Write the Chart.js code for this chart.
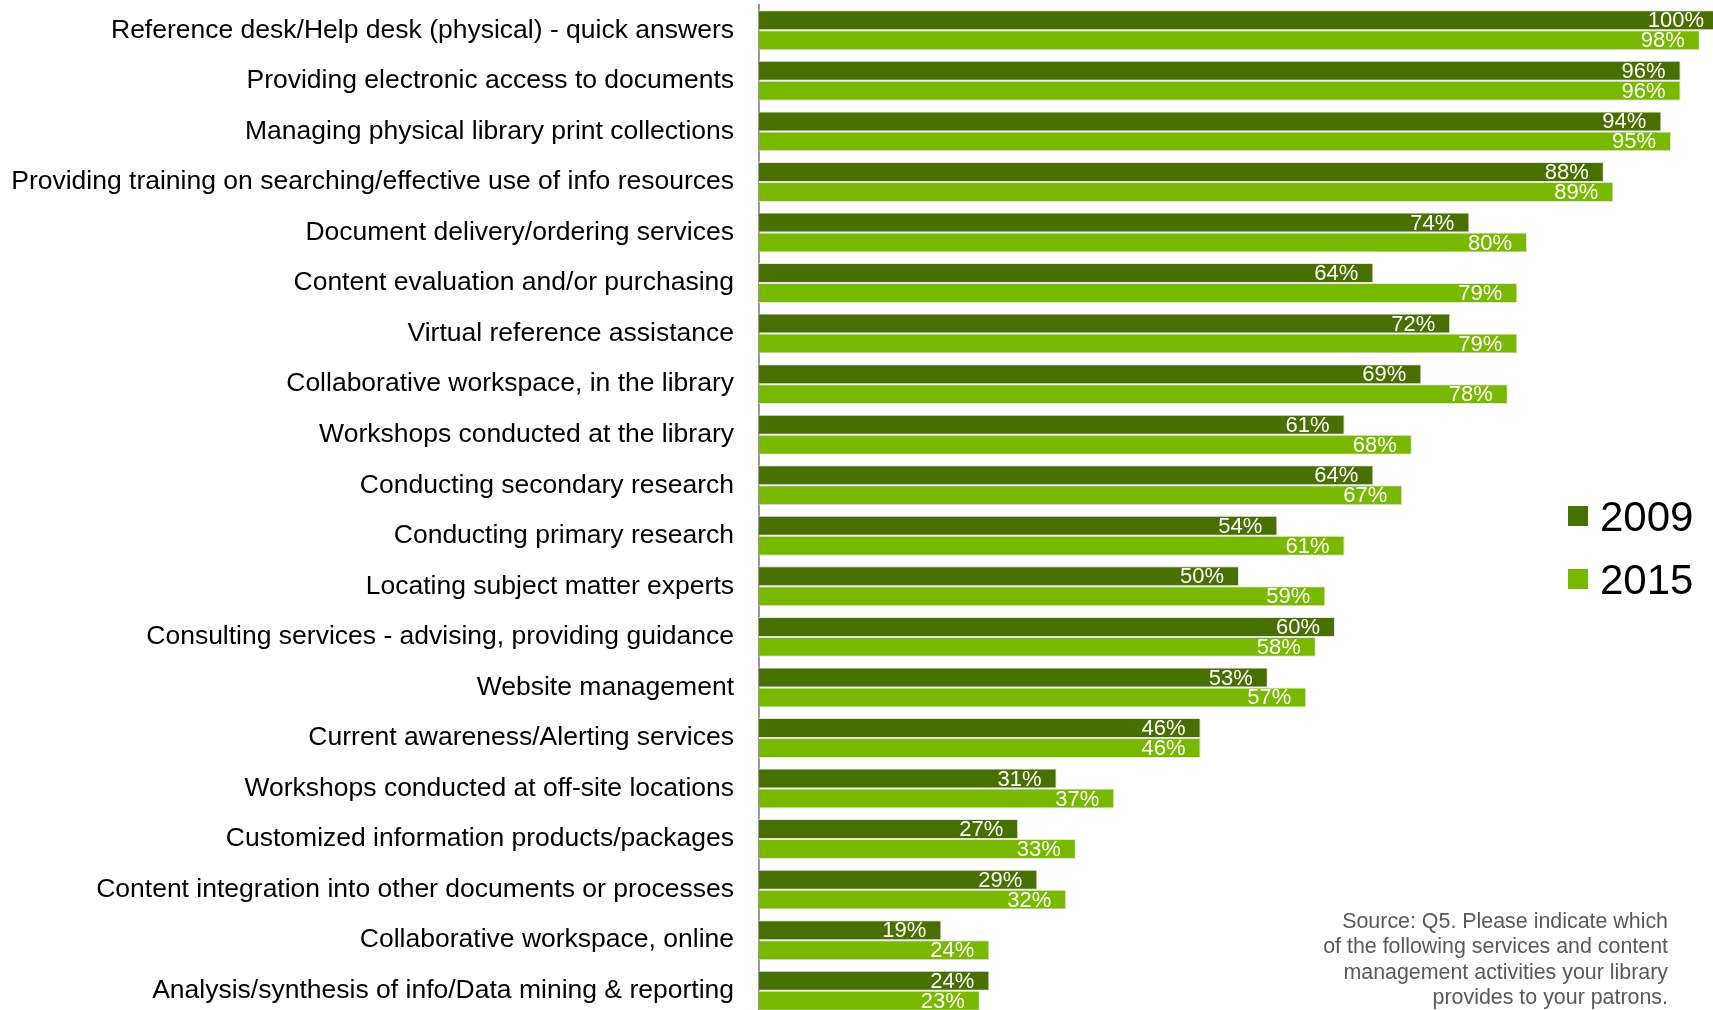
<!DOCTYPE html>
<html>
<head>
<meta charset="utf-8">
<script src="https://cdn.jsdelivr.net/npm/chart.js@4/dist/chart.umd.min.js"></script>
<style>
  html, body { margin: 0; padding: 0; background: #fff; overflow: hidden; }
  canvas { display: block; }
</style>
</head>
<body>
<canvas id="myChart" width="1720" height="1016"></canvas>
<script>
var categories = [
  "Reference desk/Help desk (physical) - quick answers",
  "Providing electronic access to documents",
  "Managing physical library print collections",
  "Providing training on searching/effective use of info resources",
  "Document delivery/ordering services",
  "Content evaluation and/or purchasing",
  "Virtual reference assistance",
  "Collaborative workspace, in the library",
  "Workshops conducted at the library",
  "Conducting secondary research",
  "Conducting primary research",
  "Locating subject matter experts",
  "Consulting services - advising, providing guidance",
  "Website management",
  "Current awareness/Alerting services",
  "Workshops conducted at off-site locations",
  "Customized information products/packages",
  "Content integration into other documents or processes",
  "Collaborative workspace, online",
  "Analysis/synthesis of info/Data mining & reporting"
];
var values2009 = [100, 96, 94, 88, 74, 64, 72, 69, 61, 64, 54, 50, 60, 53, 46, 31, 27, 29, 19, 24];
var values2015 = [98, 96, 95, 89, 80, 79, 79, 78, 68, 67, 61, 59, 58, 57, 46, 37, 33, 32, 24, 23];
var seriesNames = ["2009", "2015"];
var sourceLines = [
  "Source: Q5. Please indicate which",
  "of the following services and content",
  "management activities your library",
  "provides to your patrons."
];

var FONT = "'Liberation Sans', Arial, sans-serif";

// white percentage text at the end of each bar
var valueLabels = {
  id: 'valueLabels',
  afterDatasetsDraw: function(chart) {
    var ctx = chart.ctx;
    ctx.save();
    ctx.font = '22px ' + FONT;
    ctx.fillStyle = '#fff';
    ctx.textAlign = 'right';
    ctx.textBaseline = 'middle';
    chart.data.datasets.forEach(function(ds, i) {
      chart.getDatasetMeta(i).data.forEach(function(bar, j) {
        ctx.fillText(ds.data[j] + '%', bar.x - 15, bar.y + 1);
      });
    });
    ctx.restore();
  }
};

// legend on the right and the source note in the corner
var sideNotes = {
  id: 'sideNotes',
  afterDraw: function(chart) {
    var ctx = chart.ctx;
    ctx.save();
    chart.data.datasets.forEach(function(ds, i) {
      var base = 531 + i * 63;
      ctx.fillStyle = ds.backgroundColor;
      ctx.fillRect(1568, base - 25, 20, 20);
      ctx.fillStyle = '#000';
      ctx.font = '42px ' + FONT;
      ctx.textAlign = 'left';
      ctx.textBaseline = 'alphabetic';
      ctx.fillText(ds.label, 1600, base);
    });
    ctx.fillStyle = '#595959';
    ctx.font = '21.4px ' + FONT;
    ctx.textAlign = 'right';
    sourceLines.forEach(function(line, i) {
      ctx.fillText(line, 1668, 928 + i * 25.4);
    });
    ctx.restore();
  }
};

var ctx = document.getElementById("myChart").getContext("2d");

new Chart(ctx, {
  type: 'bar',
  data: {
    labels: categories,
    datasets: [
      {
        label: seriesNames[0],
        data: values2009,
        backgroundColor: '#477000',
        borderColor: '#e4e4e4',
        borderWidth: 1,
        barPercentage: 1,
        categoryPercentage: 0.79
      },
      {
        label: seriesNames[1],
        data: values2015,
        backgroundColor: '#78b900',
        borderColor: '#e4e4e4',
        borderWidth: 1,
        barPercentage: 1,
        categoryPercentage: 0.79
      }
    ]
  },
  options: {
    indexAxis: 'y',
    responsive: false,
    animation: false,
    layout: { padding: { top: 5, right: 1, bottom: 0, left: 0 } },
    plugins: {
      legend: { display: false },
      tooltip: { enabled: false }
    },
    scales: {
      x: {
        display: false,
        min: 0,
        max: 100
      },
      y: {
        afterFit: function(scale) {
          scale.width = 759;
          scale.paddingTop = 0;
          scale.paddingBottom = 0;
        },
        grid: { display: false, drawTicks: false },
        border: { display: true, color: '#999', width: 2 },
        ticks: {
          color: '#000',
          padding: 25,
          autoSkip: false,
          font: { family: FONT, size: 26.5 }
        }
      }
    }
  },
  plugins: [valueLabels, sideNotes]
});
</script>
</body>
</html>
